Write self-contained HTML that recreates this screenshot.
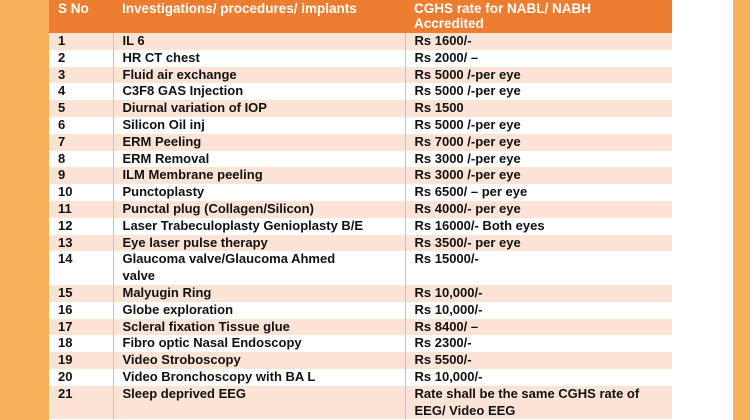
<!DOCTYPE html>
<html><head><style>
html,body{margin:0;width:750px;height:420px;overflow:hidden;}
body{background:#fff;position:relative;font-family:"Liberation Sans",Arial,sans-serif;}
.l{position:absolute;left:0;top:0;width:49px;height:420px;background:#f7b15a;}
.r{position:absolute;left:733px;top:0;width:17px;height:420px;background:#f7b15a;}
table{position:absolute;left:49px;top:0;width:623px;border-collapse:collapse;table-layout:fixed;font-weight:bold;font-size:13px;color:#111;}
td{padding:0 0 0 9px;vertical-align:top;line-height:16.8px;height:16.8px;border-left:1px solid #f2b88a;white-space:nowrap;overflow:hidden;}
td:first-child{border-left:none;}
th{background:#ed7d31;color:#fff;text-align:left;vertical-align:top;padding:1px 0 0 9px;height:32px;font-size:13.5px;line-height:15px;font-weight:bold;}
tr.o td{background:#fbe4d5;}
</style></head><body>
<div class="l"></div><div class="r"></div>
<table>
<colgroup><col style="width:64px"><col style="width:292px"><col></colgroup>
<tr><th>S No</th><th>Investigations/ procedures/ implants</th><th>CGHS rate for NABL/ NABH<br>Accredited</th></tr>
<tr class="o"><td>1</td><td>IL 6</td><td>Rs 1600/-</td></tr>
<tr><td>2</td><td>HR CT chest</td><td>Rs 2000/ –</td></tr>
<tr class="o"><td>3</td><td>Fluid air exchange</td><td>Rs 5000 /-per eye</td></tr>
<tr><td>4</td><td>C3F8 GAS Injection</td><td>Rs 5000 /-per eye</td></tr>
<tr class="o"><td>5</td><td>Diurnal variation of IOP</td><td>Rs 1500</td></tr>
<tr><td>6</td><td>Silicon Oil inj</td><td>Rs 5000 /-per eye</td></tr>
<tr class="o"><td>7</td><td>ERM Peeling</td><td>Rs 7000 /-per eye</td></tr>
<tr><td>8</td><td>ERM Removal</td><td>Rs 3000 /-per eye</td></tr>
<tr class="o"><td>9</td><td>ILM Membrane peeling</td><td>Rs 3000 /-per eye</td></tr>
<tr><td>10</td><td>Punctoplasty</td><td>Rs 6500/ – per eye</td></tr>
<tr class="o"><td>11</td><td>Punctal plug (Collagen/Silicon)</td><td>Rs 4000/- per eye</td></tr>
<tr><td>12</td><td>Laser Trabeculoplasty Genioplasty B/E</td><td>Rs 16000/- Both eyes</td></tr>
<tr class="o"><td>13</td><td>Eye laser pulse therapy</td><td>Rs 3500/- per eye</td></tr>
<tr><td style="height:33.6px">14</td><td>Glaucoma valve/Glaucoma Ahmed<br>valve</td><td>Rs 15000/-</td></tr>
<tr class="o"><td>15</td><td>Malyugin Ring</td><td>Rs 10,000/-</td></tr>
<tr><td>16</td><td>Globe exploration</td><td>Rs 10,000/-</td></tr>
<tr class="o"><td>17</td><td>Scleral fixation Tissue glue</td><td>Rs 8400/ –</td></tr>
<tr><td>18</td><td>Fibro optic Nasal Endoscopy</td><td>Rs 2300/-</td></tr>
<tr class="o"><td>19</td><td>Video Stroboscopy</td><td>Rs 5500/-</td></tr>
<tr><td>20</td><td>Video Bronchoscopy with BA L</td><td>Rs 10,000/-</td></tr>
<tr class="o"><td style="height:33.6px">21</td><td>Sleep deprived EEG</td><td>Rate shall be the same CGHS rate of<br>EEG/ Video EEG</td></tr>
</table>
</body></html>
